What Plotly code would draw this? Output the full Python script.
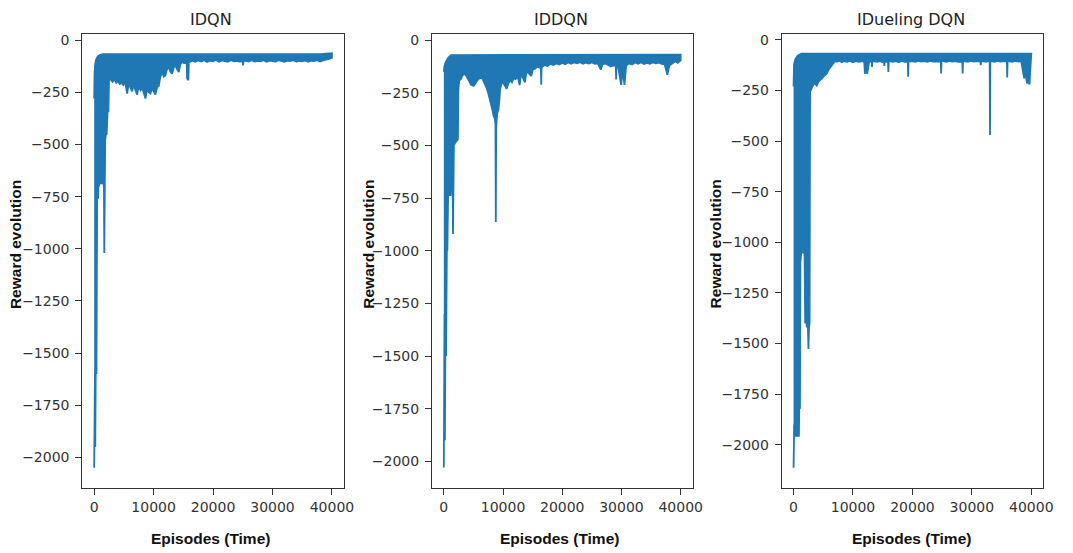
import plotly.graph_objects as go

# ---------------- data ----------------
titles = ["IDQN", "IDDQN", "IDueling DQN"]
x_ticks = [0, 10000, 20000, 30000, 40000]
x_tick_labels = ["0", "10000", "20000", "30000", "40000"]
y_ticks = [0, -250, -500, -750, -1000, -1250, -1500, -1750, -2000]
y_tick_labels = ["0", "\u2212250", "\u2212500", "\u2212750", "\u22121000",
                 "\u22121250", "\u22121500", "\u22121750", "\u22122000"]

# IDQN: upper envelope and lower envelope of the reward curve
idqn_up_x = [0, 60, 150, 300, 600, 1000, 1500, 38000, 39000, 40000]
idqn_up_y = [-280, -160, -120, -95, -78, -70, -67, -67, -65, -63]
idqn_lo_x = [0, 40, 80, 130, 180, 230, 280, 330, 380, 430, 500, 580, 660, 740, 820, 900,
             1000, 1100, 1200, 1300, 1400, 1500, 1640, 1700, 1760, 1850, 1950, 2100, 2250,
             2400, 2500, 2600, 2800, 3100, 3400, 3700, 4000, 4300, 4600, 4900, 5200, 5550,
             5800, 6100, 6390, 6600, 6900, 7230, 7500, 7790, 8100, 8400, 8630, 8900, 9200,
             9470, 9750, 10000, 10300, 10600, 10870, 11100, 11430, 11700, 11990, 12250,
             12550, 12800, 13100, 13400, 13670, 13950, 14230, 14500, 14790, 15100, 15400,
             15570, 15630, 15850, 15920, 16000, 16500, 17000, 17500, 18000, 18500, 19000,
             19500, 20000, 20500, 21000, 21500, 22000, 22500, 23000, 23500, 24000, 24500,
             24950, 25040, 25130, 25300, 26000, 26500, 27000, 27500, 28000, 28500, 29000,
             29500, 30000, 30500, 31000, 31500, 32000, 32500, 33000, 33500, 34000, 34500,
             35000, 35500, 36000, 36500, 37000, 37500, 38000, 38500, 39000, 39500, 40000]
idqn_lo_y = [-2050, -1700, -1980, -1600, -1950, -1500, -1900, -1300, -1600, -850, -760,
             -700, -760, -680, -700, -680, -690, -670, -690, -660, -690, -680, -700, -1020,
             -700, -480, -455, -450, -345, -340, -175, -168, -190, -200, -185, -205, -195,
             -210, -205, -215, -200, -256, -210, -225, -245, -215, -235, -261, -220, -240,
             -230, -255, -280, -235, -250, -256, -230, -245, -261, -225, -220, -180, -153,
             -175, -169, -140, -129, -150, -161, -130, -121, -140, -153, -115, -105, -110,
             -108, -110, -185, -192, -110, -105, -98, -104, -97, -102, -96, -105, -98, -101,
             -95, -103, -97, -100, -104, -96, -101, -99, -103, -100, -121, -100, -98, -102,
             -96, -103, -99, -101, -96, -104, -98, -100, -103, -96, -101, -104, -98, -100,
             -96, -103, -99, -101, -97, -104, -98, -100, -96, -102, -97, -95, -90, -85]

# IDDQN
iddqn_up_x = [0, 100, 300, 700, 1200, 2000, 40000]
iddqn_up_y = [-150, -125, -105, -85, -71, -69, -68]
iddqn_lo_x = [0, 40, 80, 130, 180, 230, 280, 330, 380, 430, 480, 540, 600, 660, 740, 820,
              900, 980, 1060, 1140, 1220, 1300, 1400, 1490, 1550, 1610, 1700, 1850, 2000,
              2200, 2380, 2450, 2600, 2830, 3100, 3400, 3670, 4000, 4300, 4600, 5050, 5400,
              5800, 6100, 6450, 6800, 7200, 7560, 7900, 8200, 8390, 8600, 8720, 8780, 8840,
              9000, 9220, 9400, 9500, 9750, 10000, 10300, 10600, 10900, 11200, 11500, 11800,
              12100, 12500, 12800, 13000, 13300, 13700, 13950, 14300, 14780, 15000, 15400,
              15800, 16100, 16390, 16450, 16510, 16700, 17000, 17500, 18000, 18500, 19000,
              19500, 20000, 20500, 21000, 21500, 22000, 22500, 23000, 23500, 24000, 24500,
              25000, 25500, 26000, 26500, 26800, 27300, 27800, 28200, 28600, 29040, 29100,
              29160, 29400, 29950, 30200, 30500, 30800, 31300, 31800, 32300, 32800, 33300,
              33800, 34300, 34800, 35300, 35800, 36300, 36800, 37300, 37750, 38100, 38500,
              39100, 39500, 40000]
iddqn_lo_y = [-2030, -1500, -1950, -1300, -1900, -1150, -1700, -1100, -1500, -1050, -1250,
              -900, -1000, -720, -700, -740, -680, -720, -690, -740, -700, -720, -700, -720,
              -920, -720, -500, -490, -485, -480, -470, -240, -190, -187, -170, -160, -164,
              -180, -200, -212, -217, -200, -185, -180, -179, -200, -225, -258, -290, -330,
              -360, -370, -400, -863, -420, -350, -329, -280, -235, -205, -200, -215, -231,
              -205, -190, -200, -180, -185, -175, -213, -170, -175, -200, -150, -155, -170,
              -140, -135, -125, -130, -130, -211, -130, -125, -118, -122, -112, -118, -110,
              -115, -108, -114, -106, -112, -105, -110, -104, -112, -106, -111, -105, -112,
              -110, -140, -115, -110, -118, -125, -120, -120, -187, -120, -118, -212, -140,
              -212, -120, -110, -115, -106, -112, -105, -113, -108, -112, -105, -110, -106,
              -112, -115, -164, -120, -112, -100, -108, -95]

# IDueling DQN
iduel_up_x = [0, 80, 300, 700, 1300, 40000]
iduel_up_y = [-230, -120, -95, -78, -68, -67]
iduel_lo_x = [0, 60, 120, 180, 240, 300, 360, 420, 480, 540, 600, 660, 720, 780, 840, 900,
              960, 1020, 1080, 1150, 1250, 1350, 1450, 1550, 1650, 1750, 1850, 1950, 2100,
              2250, 2400, 2500, 2600, 2700, 2780, 3000, 3300, 3600, 3900, 4170, 4500, 4800,
              5000, 5300, 5600, 5830, 6100, 6400, 6700, 6950, 7300, 7700, 8100, 8500, 9000,
              9500, 10000, 10500, 11000, 11500, 11900, 12000, 12200, 12400, 12700, 13140,
              13200, 13260, 13500, 14000, 14500, 15000, 15220, 15280, 15340, 15600, 15890,
              15950, 16010, 16200, 16700, 17200, 17700, 18200, 18700, 19220, 19280, 19340,
              19600, 20000, 20500, 21000, 21500, 22000, 22500, 23000, 23500, 24000, 24770,
              24830, 24890, 25200, 25700, 26200, 26700, 27200, 27700, 28390, 28450, 28510,
              28800, 29300, 29800, 30300, 30800, 31440, 31500, 31560, 31800, 32300, 32800,
              32990, 33050, 33110, 33300, 33800, 34300, 34800, 35300, 35890, 35950, 36010,
              36300, 36800, 37300, 37800, 38300, 38800, 39000, 39280, 39500, 39700, 39850,
              40000]
iduel_lo_y = [-2114, -1960, -1900, -1960, -1850, -1960, -1900, -1960, -1800, -1960, -1900,
              -1960, -1850, -1960, -1900, -1960, -1820, -1700, -1822, -1100, -1050, -1030,
              -1050, -1040, -1055, -1030, -1045, -1400, -1380, -1420, -1400, -1527, -1420,
              -1400, -256, -240, -222, -215, -225, -207, -200, -190, -182, -175, -165, -150,
              -140, -125, -115, -105, -108, -102, -110, -104, -108, -103, -110, -105, -108,
              -104, -110, -166, -158, -166, -110, -105, -133, -105, -105, -108, -104, -110,
              -108, -128, -108, -108, -108, -158, -105, -105, -108, -104, -110, -103, -108,
              -108, -182, -105, -105, -104, -108, -103, -107, -104, -108, -103, -107, -105,
              -105, -166, -104, -104, -108, -103, -107, -104, -108, -108, -166, -105, -105,
              -108, -103, -107, -104, -105, -125, -105, -105, -108, -104, -104, -470, -105,
              -105, -108, -103, -107, -104, -105, -185, -105, -105, -108, -103, -107, -104,
              -190, -160, -215, -200, -220, -140, -95]

series = [
    (idqn_up_x, idqn_up_y, idqn_lo_x, idqn_lo_y),
    (iddqn_up_x, iddqn_up_y, iddqn_lo_x, iddqn_lo_y),
    (iduel_up_x, iduel_up_y, iduel_lo_x, iduel_lo_y),
]
y_ranges = [[-2148, 30], [-2128, 30], [-2215, 30]]

# ---------------- layout geometry (page pixels; page body has an 8px margin) ----------------
OFF = 8
W, H = 1073 - OFF, 553 - OFF
x_dom_px = [(83, 347), (436, 699), (789, 1053)]
y_dom_px = (32, 488)
title_px = [213, 566, 920]
xlab_px = [212, 565, 920]
ylab_px = [15, 372, 722]


def fx(p):
    return (p - OFF) / W


def fy(p):
    return 1 - (p - OFF) / H


BLUE = "#1f77b4"
TICKFONT = dict(family="DejaVu Sans", size=14, color="#333333")
LABFONT = dict(family="Liberation Sans", size=15.5, color="#111111")

fig = go.Figure()
layout = dict(
    width=W, height=H, autosize=False,
    margin=dict(l=0, r=0, t=0, b=0),
    paper_bgcolor="white", plot_bgcolor="white",
    showlegend=False,
)
annotations = []
for i, (ux, uy, lx, ly) in enumerate(series):
    n = "" if i == 0 else str(i + 1)
    px = list(lx) + list(ux[::-1])
    py = list(ly) + list(uy[::-1])
    fig.add_trace(go.Scatter(
        x=px, y=py, mode="lines", fill="toself",
        fillcolor=BLUE, line=dict(color=BLUE, width=1.8),
        xaxis="x" + n, yaxis="y" + n, hoverinfo="skip",
    ))
    x0, x1 = x_dom_px[i]
    layout["xaxis" + n] = dict(
        domain=[fx(x0), fx(x1)], anchor="y" + n, range=[-2000, 42000],
        tickvals=x_ticks, ticktext=x_tick_labels, ticks="outside", ticklen=6,
        tickwidth=1, tickcolor="#333333", tickfont=TICKFONT,
        showline=True, mirror=True, linecolor="#333333", linewidth=1,
        showgrid=False, zeroline=False,
    )
    layout["yaxis" + n] = dict(
        domain=[fy(y_dom_px[1]), fy(y_dom_px[0])], anchor="x" + n,
        range=y_ranges[i],
        tickvals=y_ticks, ticktext=y_tick_labels, ticks="outside", ticklen=6,
        tickwidth=1, tickcolor="#333333", tickfont=TICKFONT, ticklabelstandoff=3,
        showline=True, mirror=True, linecolor="#333333", linewidth=1,
        showgrid=False, zeroline=False,
    )
    annotations.append(dict(
        text=titles[i], x=fx(title_px[i]), y=fy(18), xref="paper", yref="paper",
        xanchor="center", yanchor="middle", showarrow=False,
        font=dict(family="DejaVu Sans", size=16, color="#222222"),
    ))
    annotations.append(dict(
        text="<b>Episodes (Time)</b>", x=fx(xlab_px[i]), y=fy(538),
        xref="paper", yref="paper", xanchor="center", yanchor="middle",
        showarrow=False, font=LABFONT,
    ))
    annotations.append(dict(
        text="<b>Reward evolution</b>", x=fx(ylab_px[i]), y=fy(243),
        xref="paper", yref="paper", xanchor="center", yanchor="middle",
        showarrow=False, textangle=-90, font=LABFONT,
    ))
layout["annotations"] = annotations
fig.update_layout(**layout)
fig.write_html("out.html")
